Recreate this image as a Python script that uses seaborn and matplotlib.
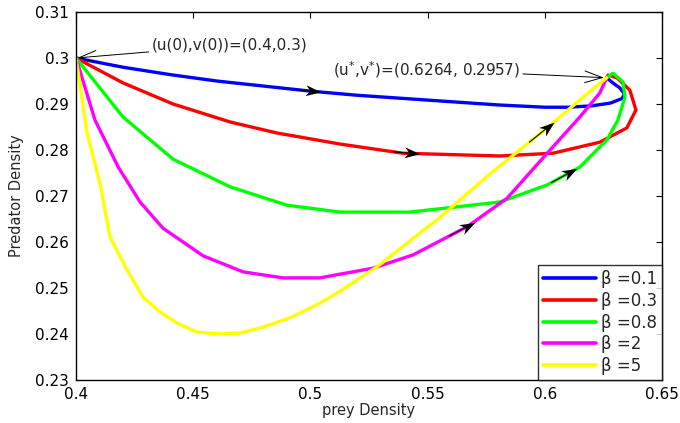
import numpy as np
import pandas as pd
import matplotlib
matplotlib.use("Agg")
import matplotlib.pyplot as plt
import seaborn as sns
from matplotlib.path import Path
from matplotlib.markers import MarkerStyle
from matplotlib.transforms import Affine2D

# ------------------------------------------
# Data
# ------------------------------------------

u_b01 = [0.4, 0.42, 0.44, 0.46, 0.48, 0.5, 0.52, 0.54, 0.56, 0.58, 0.6, 0.61,
         0.62, 0.628, 0.633, 0.634, 0.632, 0.629, 0.6264]
v_b01 = [0.3, 0.2980, 0.2964, 0.2950, 0.2939, 0.2928, 0.2919, 0.2912, 0.2905,
         0.2898, 0.2893, 0.2893, 0.2896, 0.2902, 0.2912, 0.2922, 0.2935, 0.2946, 0.2957]

u_b03 = [0.4, 0.42, 0.4414, 0.4657, 0.4857, 0.5126, 0.5395, 0.5809, 0.6035,
         0.6235, 0.635, 0.6389, 0.6363, 0.6308, 0.627, 0.6264]
v_b03 = [0.3, 0.2946, 0.29, 0.2861, 0.2837, 0.2813, 0.2793, 0.2787, 0.2793,
         0.2817, 0.2848, 0.2887, 0.2930, 0.2957, 0.2963, 0.2957]

u_b08 = [0.4, 0.42, 0.4414, 0.4657, 0.49, 0.5126, 0.5425, 0.5809, 0.601, 0.615,
         0.6265, 0.6312, 0.6342, 0.6334, 0.6291, 0.6264]
v_b08 = [0.3, 0.2872, 0.278, 0.272, 0.268, 0.2665, 0.2665, 0.2687, 0.2724,
         0.2763, 0.2822, 0.2865, 0.2915, 0.2948, 0.2967, 0.2957]

u_b2 = [0.4, 0.4081, 0.418, 0.4273, 0.4371, 0.4542, 0.4713, 0.4883, 0.5041,
        0.5126, 0.5267, 0.5438, 0.5668, 0.5839, 0.6035, 0.615, 0.6235, 0.6264]
v_b2 = [0.3, 0.2865, 0.2763, 0.2687, 0.263, 0.257, 0.2535, 0.2522, 0.2522,
        0.253, 0.2543, 0.2572, 0.2633, 0.2695, 0.2807, 0.2872, 0.2924, 0.2957]

u_b5 = [0.4, 0.4047, 0.4102, 0.4145, 0.4218, 0.4286, 0.4358, 0.4431, 0.4516,
        0.4614, 0.47, 0.4798, 0.4913, 0.5041, 0.5126, 0.5284, 0.5468, 0.554,
        0.5766, 0.601, 0.615, 0.6264]
v_b5 = [0.3, 0.2837, 0.2728, 0.2611, 0.2539, 0.248, 0.2448, 0.2424, 0.2404,
        0.24, 0.2402, 0.2415, 0.2435, 0.2467, 0.2493, 0.2546, 0.262, 0.2648,
        0.2748, 0.2848, 0.2909, 0.2957]

labels = ["\u03b2 =0.1", "\u03b2 =0.3", "\u03b2 =0.8", "\u03b2 =2", "\u03b2 =5"]
colors = ["#0000ff", "#ff0000", "#00ff00", "#ff00ff", "#ffff00"]

# prey value where a direction arrow sits on each curve
arrow_u = [0.5011, 0.5433, 0.6108, 0.5672, 0.6014]

x_ticks = [0.4, 0.45, 0.5, 0.55, 0.6, 0.65]
x_tick_labels = ["0.4", "0.45", "0.5", "0.55", "0.6", "0.65"]
y_ticks = [0.23, 0.24, 0.25, 0.26, 0.27, 0.28, 0.29, 0.3, 0.31]
y_tick_labels = ["0.23", "0.24", "0.25", "0.26", "0.27", "0.28", "0.29", "0.3", "0.31"]

start_pt = (0.4, 0.3)
equil_pt = (0.6264, 0.2957)

# ------------------------------------------
# Style
# ------------------------------------------

sns.set_style("white")
plt.rcParams['font.family'] = ['DejaVu Sans']
plt.rcParams['mathtext.fontset'] = 'dejavusans'
plt.rcParams['xtick.direction'] = 'in'
plt.rcParams['ytick.direction'] = 'in'

fig = plt.figure(figsize=(6.8, 4.23), dpi=100)
ax = fig.add_axes([0.1118, 0.1017, 0.8617, 0.8699])

curves = [(u_b01, v_b01), (u_b03, v_b03), (u_b08, v_b08), (u_b2, v_b2), (u_b5, v_b5)]

frames = []
for (u, v), lab in zip(curves, labels):
    frames.append(pd.DataFrame({"u": u, "v": v, "beta": lab}))
df = pd.concat(frames, ignore_index=True)

sns.lineplot(data=df, x="u", y="v", hue="beta", palette=colors, sort=False,
             estimator=None, units="beta", lw=2.4, ax=ax)

ax.set_xlim(0.4, 0.65)
ax.set_ylim(0.23, 0.31)

# concave (MATLAB-like) arrow head, tip at +0.5 pointing +x
head_path = Path([(0.5, 0), (-0.5, 0.36), (-0.2, 0), (-0.5, -0.36), (0.5, 0)],
                 [Path.MOVETO, Path.LINETO, Path.LINETO, Path.LINETO, Path.CLOSEPOLY])

# direction arrows on the curves
for (u, v), au in zip(curves, arrow_u):
    u = np.array(u)
    v = np.array(v)
    k = int(np.argmax(u)) + 1
    hv = np.interp(au, u[:k], v[:k])
    tail_u = au - 0.008
    tv = np.interp(tail_u, u[:k], v[:k])
    p1 = ax.transData.transform((tail_u, tv))
    p2 = ax.transData.transform((au, hv))
    ang = np.degrees(np.arctan2(p2[1] - p1[1], p2[0] - p1[0]))
    ax.plot([tail_u, au], [tv, hv], color="k", lw=0.8, zorder=5)
    mk = MarkerStyle(head_path, transform=Affine2D().rotate_deg(ang))
    ax.plot([au], [hv], marker=mk, markersize=11, color="k",
            markeredgewidth=0, zorder=6, ls="none")

# labelled points
ax.annotate("(u(0),v(0))=(0.4,0.3)", xy=start_pt, xytext=(0.4324, 0.3028),
            fontsize=11, va="center", ha="left",
            arrowprops=dict(arrowstyle="->,head_length=0.9,head_width=0.3",
                            color="k", lw=0.7, mutation_scale=14,
                            shrinkA=0, shrinkB=1))
ax.annotate("(u$^{*}$,v$^{*}$)=(0.6264, 0.2957)", xy=equil_pt, xytext=(0.5096, 0.2975),
            fontsize=11, va="center", ha="left",
            arrowprops=dict(arrowstyle="->,head_length=0.9,head_width=0.3",
                            color="k", lw=0.7, mutation_scale=14,
                            shrinkA=0, shrinkB=2))

ax.set_xticks(x_ticks)
ax.set_yticks(y_ticks)
ax.set_xticklabels(x_tick_labels, fontsize=11)
ax.set_yticklabels(y_tick_labels, fontsize=11)
ax.tick_params(top=True, right=True, length=4, width=0.8, colors="k", pad=5)
for s in ax.spines.values():
    s.set_color("k")
    s.set_linewidth(1.0)

ax.set_xlabel("prey Density", fontsize=10.5, labelpad=1)
ax.set_ylabel("Predator Density", fontsize=10.5, labelpad=8)

leg = ax.legend(loc="lower right", fontsize=12, frameon=True, fancybox=False,
                handlelength=3.2, handletextpad=0.3, borderaxespad=0,
                labelspacing=0.22, borderpad=0.3)
leg.get_frame().set_edgecolor("k")
leg.get_frame().set_linewidth(1.0)
for line in leg.get_lines():
    line.set_linewidth(2.6)

fig.savefig("out.png", dpi=100)
